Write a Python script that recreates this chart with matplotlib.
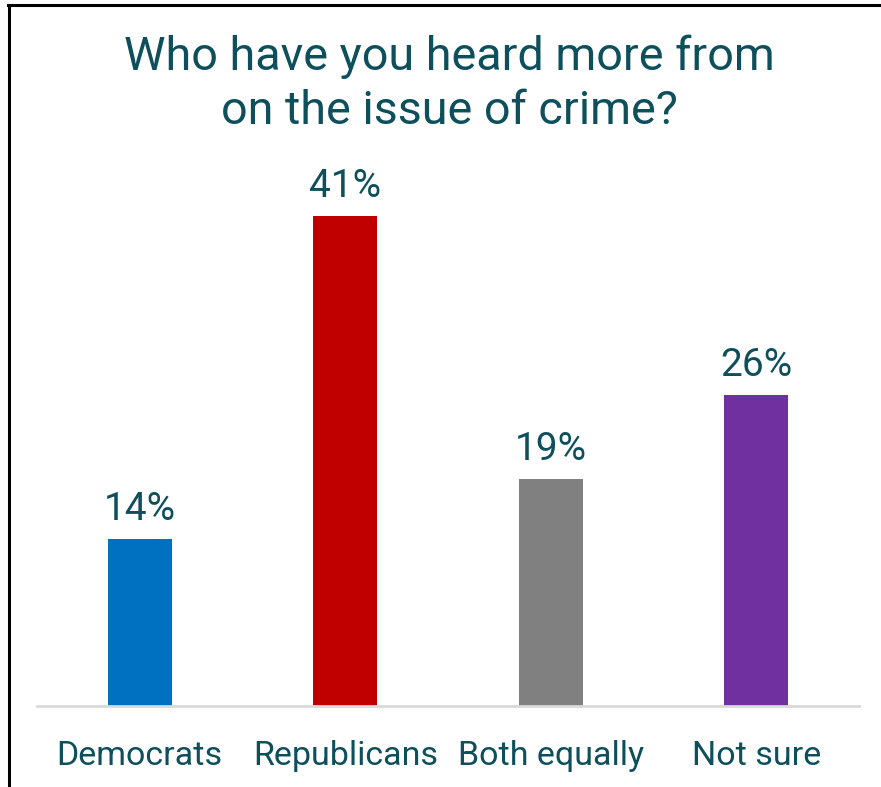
import matplotlib.pyplot as plt
from matplotlib.lines import Line2D

categories = ["Democrats", "Republicans", "Both equally", "Not sure"]
values = [14, 41, 19, 26]
labels = ["14%", "41%", "19%", "26%"]
colors = ["#0070C0", "#C00000", "#808080", "#7030A0"]
title_lines = ["Who have you heard more from", "on the issue of crime?"]

text_color = "#0d4f5b"
W, H = 881, 787
font = "Roboto"

fig = plt.figure(figsize=(W / 100, H / 100), dpi=100)

# plot area in pixel terms: x 37..859, baseline y 706
left, right = 37 / W, 859 / W
bottom = 1 - 706 / H
ymax = 45
top_px = 706 - ymax * 11.95
ax = fig.add_axes([left, bottom, right - left, (706 - top_px) / H])

x = range(len(categories))
ax.bar(x, values, width=0.31, color=colors)
ax.set_xlim(-0.5, len(categories) - 0.5)
ax.set_ylim(0, ymax)

# value labels, baseline ~19px above bar top
for i, (v, lab) in enumerate(zip(values, labels)):
    ax.annotate(lab, (i, v), xytext=(0, 13.7), textcoords="offset points",
                ha="center", va="baseline", fontsize=28,
                color=text_color, family=font)

ax.set_xticks(list(x))
ax.set_xticklabels(categories, fontsize=24.5, color=text_color, family=font)
for t in ax.get_xticklabels():
    t.set_va("baseline")
ax.tick_params(axis="x", length=0, pad=42.5)
ax.set_yticks([])
for s in ["top", "right", "left"]:
    ax.spines[s].set_visible(False)
ax.spines["bottom"].set_color("#d9d9d9")
ax.spines["bottom"].set_linewidth(2)

# title, two lines with baselines at 70 and 124 px
for line, ypx in zip(title_lines, [70, 124]):
    fig.text(449 / W, 1 - ypx / H, line, ha="center", va="baseline",
             fontsize=33.7, color=text_color, family=font)

# outer border: left and top only
fig.add_artist(Line2D([9 / W, 9 / W], [0, 1 - 5 / H], color="black", lw=2.2,
                      transform=fig.transFigure))
fig.add_artist(Line2D([8.3 / W, 1], [1 - 5 / H, 1 - 5 / H], color="black", lw=2.2,
                      transform=fig.transFigure))

fig.savefig("out.png", dpi=100)
